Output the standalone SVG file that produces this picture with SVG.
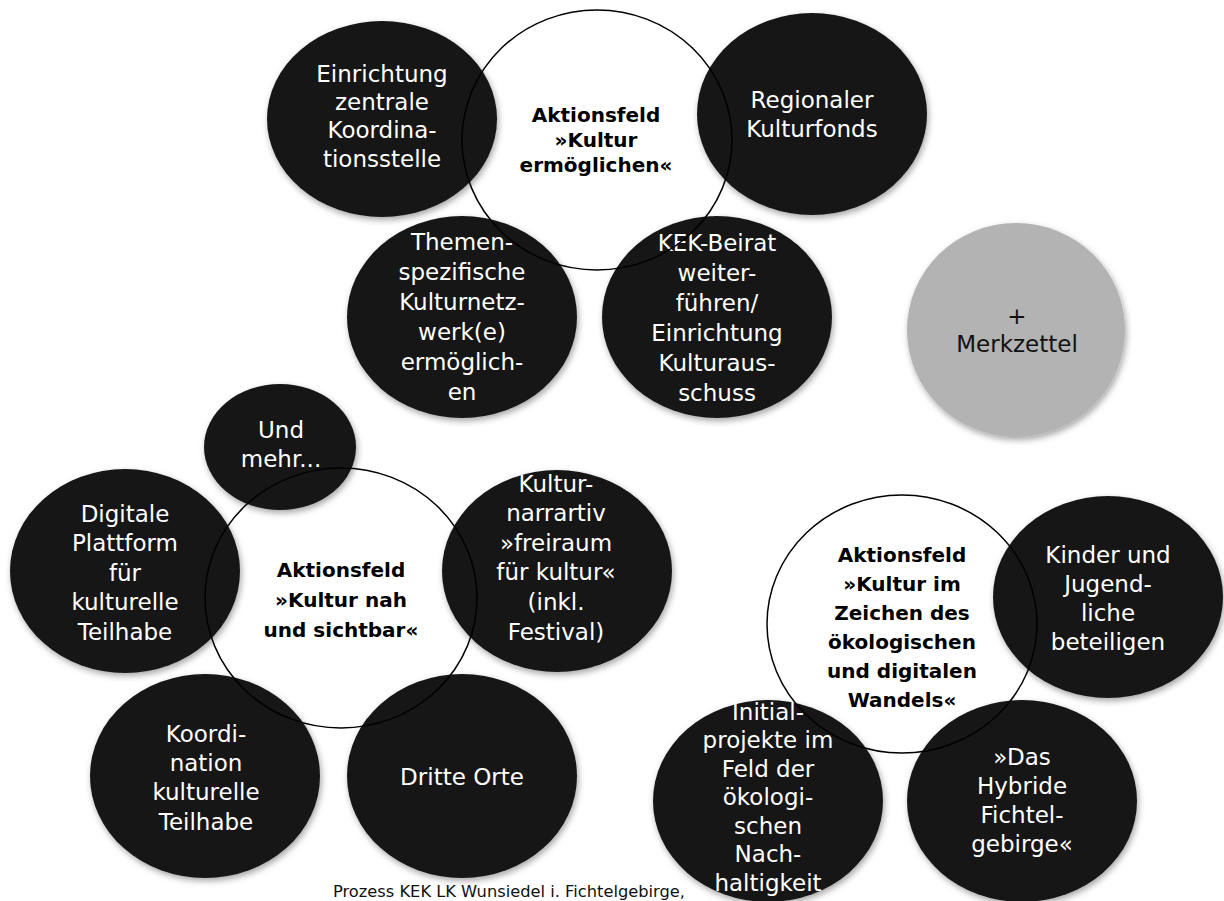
<svg xmlns="http://www.w3.org/2000/svg" width="1224" height="901" viewBox="0 0 1224 901">
<defs>
<filter id="sh" x="-20%" y="-20%" width="140%" height="140%">
<feDropShadow dx="1.5" dy="3" stdDeviation="3" flood-color="#000" flood-opacity="0.35"/>
</filter>
<style>
.blk{fill:#161616;filter:url(#sh)}
.grey{fill:#b3b3b3;filter:url(#sh)}
.ring{fill:none;stroke:#000;stroke-width:1.5}
.t{font-family:"DejaVu Sans","Liberation Sans",sans-serif;font-size:23px;fill:#fff;text-anchor:middle}
.tk{font-family:"DejaVu Sans","Liberation Sans",sans-serif;font-size:23px;fill:#111;text-anchor:middle}
.b{font-family:"DejaVu Sans","Liberation Sans",sans-serif;font-size:20px;font-weight:bold;fill:#000;text-anchor:middle}
.f{font-family:"DejaVu Sans","Liberation Sans",sans-serif;font-size:15px;fill:#111;text-anchor:middle}
</style>
</defs>
<rect width="1224" height="901" fill="#fff"/>

<g id="n_einrichtung">
<ellipse class="blk" cx="382" cy="119" rx="115" ry="98"/>
<text class="t" x="382" y="82">Einrichtung</text>
<text class="t" x="382" y="110">zentrale</text>
<text class="t" x="382" y="138">Koordina-</text>
<text class="t" x="382" y="167">tionsstelle</text>
</g>
<g id="n_kulturfonds">
<ellipse class="blk" cx="812" cy="114" rx="115" ry="101"/>
<text class="t" x="812" y="108">Regionaler</text>
<text class="t" x="812" y="137">Kulturfonds</text>
</g>
<g id="n_themen">
<ellipse class="blk" cx="462" cy="317" rx="115" ry="101"/>
<text class="t" x="462" y="250">Themen-</text>
<text class="t" x="462" y="280">spezifische</text>
<text class="t" x="462" y="310">Kulturnetz-</text>
<text class="t" x="462" y="340">werk(e)</text>
<text class="t" x="462" y="370">ermöglich-</text>
<text class="t" x="462" y="400">en</text>
</g>
<g id="n_kek">
<ellipse class="blk" cx="717" cy="317" rx="115" ry="101"/>
<text class="t" x="717" y="251">KEK-Beirat</text>
<text class="t" x="717" y="281">weiter-</text>
<text class="t" x="717" y="311">führen/</text>
<text class="t" x="717" y="341">Einrichtung</text>
<text class="t" x="717" y="371">Kulturaus-</text>
<text class="t" x="717" y="401">schuss</text>
</g>
<g id="n_merkzettel">
<ellipse class="grey" cx="1016" cy="330" rx="109" ry="107"/>
<text class="tk" x="1017" y="324">+</text>
<text class="tk" x="1017" y="352">Merkzettel</text>
</g>
<g id="c_ermoeglichen">
<ellipse class="ring" cx="597" cy="140" rx="135" ry="130"/>
<text class="b" x="596" y="122">Aktionsfeld</text>
<text class="b" x="596" y="147">»Kultur</text>
<text class="b" x="596" y="172">ermöglichen«</text>
</g>

<g id="n_undmehr">
<ellipse class="blk" cx="280" cy="447" rx="76" ry="63"/>
<text class="t" x="281" y="438">Und</text>
<text class="t" x="281" y="467">mehr...</text>
</g>
<g id="n_digitale">
<ellipse class="blk" cx="125" cy="571" rx="115" ry="102"/>
<text class="t" x="125" y="522">Digitale</text>
<text class="t" x="125" y="551">Plattform</text>
<text class="t" x="125" y="581">für</text>
<text class="t" x="125" y="610">kulturelle</text>
<text class="t" x="125" y="640">Teilhabe</text>
</g>
<g id="n_narrativ">
<ellipse class="blk" cx="557" cy="571" rx="115" ry="101"/>
<text class="t" x="556" y="492">Kultur-</text>
<text class="t" x="556" y="521">narrartiv</text>
<text class="t" x="556" y="551">»freiraum</text>
<text class="t" x="556" y="580">für kultur«</text>
<text class="t" x="556" y="610">(inkl.</text>
<text class="t" x="556" y="640">Festival)</text>
</g>
<g id="n_koordination">
<ellipse class="blk" cx="205" cy="776" rx="115" ry="102"/>
<text class="t" x="206" y="742">Koordi-</text>
<text class="t" x="206" y="771">nation</text>
<text class="t" x="206" y="800">kulturelle</text>
<text class="t" x="206" y="830">Teilhabe</text>
</g>
<g id="n_dritte">
<ellipse class="blk" cx="462" cy="776" rx="115" ry="102"/>
<text class="t" x="462" y="785">Dritte Orte</text>
</g>
<g id="c_nah">
<ellipse class="ring" cx="341" cy="598" rx="136" ry="130"/>
<text class="b" x="341" y="577">Aktionsfeld</text>
<text class="b" x="341" y="607">»Kultur nah</text>
<text class="b" x="341" y="637">und sichtbar«</text>
</g>

<g id="n_kinder">
<ellipse class="blk" cx="1108" cy="597" rx="115" ry="101"/>
<text class="t" x="1108" y="563">Kinder und</text>
<text class="t" x="1108" y="592">Jugend-</text>
<text class="t" x="1108" y="621">liche</text>
<text class="t" x="1108" y="650">beteiligen</text>
</g>
<g id="n_initial">
<ellipse class="blk" cx="768" cy="801" rx="115" ry="101"/>
<text class="t" x="768" y="720">Initial-</text>
<text class="t" x="768" y="748">projekte im</text>
<text class="t" x="768" y="777">Feld der</text>
<text class="t" x="768" y="805">ökologi-</text>
<text class="t" x="768" y="834">schen</text>
<text class="t" x="768" y="862">Nach-</text>
<text class="t" x="768" y="891">haltigkeit</text>
</g>
<g id="n_hybride">
<ellipse class="blk" cx="1022" cy="801" rx="115" ry="101"/>
<text class="t" x="1022" y="765">»Das</text>
<text class="t" x="1022" y="794">Hybride</text>
<text class="t" x="1022" y="823">Fichtel-</text>
<text class="t" x="1022" y="852">gebirge«</text>
</g>
<g id="c_wandel">
<ellipse class="ring" cx="902" cy="624" rx="135" ry="129"/>
<text class="b" x="902" y="562">Aktionsfeld</text>
<text class="b" x="902" y="591">»Kultur im</text>
<text class="b" x="902" y="620">Zeichen des</text>
<text class="b" x="902" y="649">ökologischen</text>
<text class="b" x="902" y="678">und digitalen</text>
<text class="b" x="902" y="707">Wandels«</text>
</g>

<g id="connectors"></g>

<text class="f" x="509" y="897" textLength="352" lengthAdjust="spacingAndGlyphs">Prozess KEK LK Wunsiedel i. Fichtelgebirge,</text>
</svg>
